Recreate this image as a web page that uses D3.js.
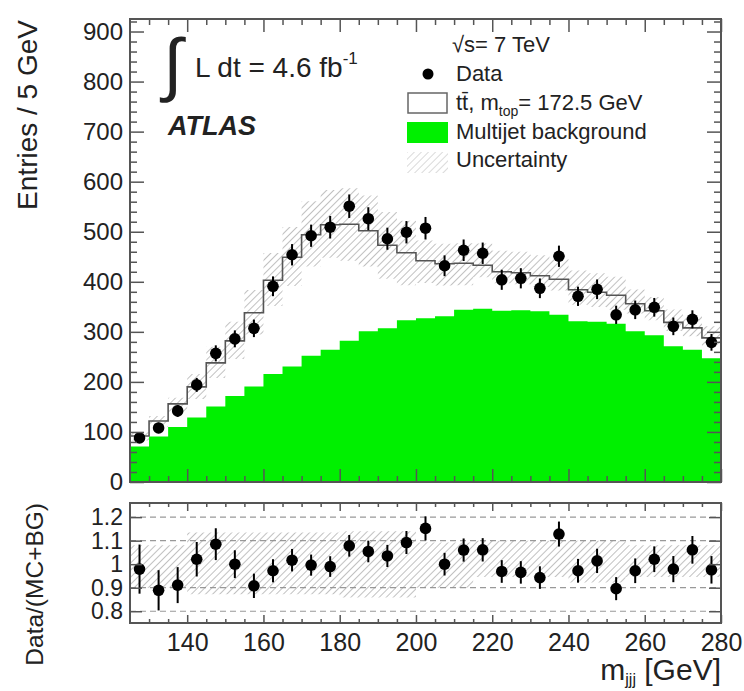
<!DOCTYPE html>
<html>
<head>
<meta charset="utf-8">
<script src="https://cdn.jsdelivr.net/npm/d3@7"></script>
<style>
body { margin: 0; background: #fff; }
text { font-family: 'Liberation Sans', Arial, Helvetica, sans-serif; fill: #222; }
</style>
</head>
<body>
<svg></svg>
<script>
const size = {w: 744, h: 691};
const mainBox = {l: 130, r: 721, t: 19, b: 482};
const ratioBox = {l: 130, r: 721, t: 503, b: 623};
const binWidth = 5;

const binCenters = [127.5, 132.5, 137.5, 142.5, 147.5, 152.5, 157.5, 162.5, 167.5, 172.5,
    177.5, 182.5, 187.5, 192.5, 197.5, 202.5, 207.5, 212.5, 217.5, 222.5,
    227.5, 232.5, 237.5, 242.5, 247.5, 252.5, 257.5, 262.5, 267.5, 272.5, 277.5];

const dataCounts = [88, 108, 142, 194, 257, 286, 307, 391, 454, 492,
    509, 551, 526, 486, 499, 507, 432, 463, 457, 404,
    407, 387, 451, 371, 385, 334, 344, 349, 311, 325, 279];

// ttbar + multijet
const prediction = [92, 122, 156, 190, 238, 282, 338, 403, 449, 494,
    514, 515, 502, 473, 458, 442, 436, 437, 433, 420,
    418, 412, 405, 384, 379, 373, 356, 342, 319, 308, 288];

const multijet = [71, 91, 110, 129, 151, 172, 191, 216, 231, 252,
    264, 282, 301, 307, 323, 327, 331, 344, 346, 342,
    343, 341, 334, 321, 320, 316, 301, 293, 271, 264, 247];

const ratioValues = [0.979, 0.889, 0.911, 1.021, 1.085, 1.0, 0.908, 0.972, 1.017, 0.996,
    0.99, 1.078, 1.054, 1.035, 1.092, 1.152, 1.0, 1.06, 1.061, 0.969,
    0.965, 0.943, 1.128, 0.972, 1.014, 0.896, 0.972, 1.021, 0.979, 1.061, 0.976];

// relative uncertainty band (low / high) per bin
const uncLow = [0.90, 0.90, 0.90, 0.872, 0.872, 0.872, 0.872, 0.872, 0.872, 0.872,
    0.872, 0.858, 0.858, 0.858, 0.858, 0.90, 0.90, 0.90, 0.945, 0.945,
    0.945, 0.945, 0.945, 0.922, 0.922, 0.922, 0.945, 0.945, 0.945, 0.945, 0.945];
const uncHigh = [1.08, 1.08, 1.08, 1.135, 1.135, 1.135, 1.135, 1.135, 1.135, 1.135,
    1.135, 1.14, 1.14, 1.14, 1.14, 1.092, 1.092, 1.092, 1.10, 1.10,
    1.10, 1.10, 1.10, 1.10, 1.10, 1.10, 1.08, 1.08, 1.08, 1.08, 1.08];

const mainTicks = [0, 100, 200, 300, 400, 500, 600, 700, 800, 900];
const ratioTicks = [0.8, 0.9, 1, 1.1, 1.2];
const ratioGrid = [0.8, 0.9, 1.1, 1.2];
const xTicks = [140, 160, 180, 200, 220, 240, 260, 280];

const svg = d3.select('svg')
    .attr('width', size.w)
    .attr('height', size.h);

const defs = svg.append('defs');
defs.append('pattern')
    .attr('id', 'hatch')
    .attr('width', 5)
    .attr('height', 5)
    .attr('patternUnits', 'userSpaceOnUse')
    .attr('patternTransform', 'rotate(45)')
    .append('line')
    .attr('x1', 0).attr('y1', 0).attr('x2', 0).attr('y2', 5)
    .attr('stroke', '#8c8c8c')
    .attr('stroke-width', 1.1);
defs.append('pattern')
    .attr('id', 'hatchLight')
    .attr('width', 5)
    .attr('height', 5)
    .attr('patternUnits', 'userSpaceOnUse')
    .attr('patternTransform', 'rotate(45)')
    .append('line')
    .attr('x1', 0).attr('y1', 0).attr('x2', 0).attr('y2', 5)
    .attr('stroke', '#bbb')
    .attr('stroke-width', 1.1);

const x = d3.scaleLinear().domain([125, 280]).range([mainBox.l, mainBox.r]);
const y = d3.scaleLinear().domain([0, 925]).range([mainBox.b, mainBox.t]);
const yr = d3.scaleLinear().domain([0.75, 1.26]).range([ratioBox.b, ratioBox.t]);

const bins = binCenters.map((c, i) => ({
    c: c,
    n: dataCounts[i],
    pred: prediction[i],
    bg: multijet[i],
    ratio: ratioValues[i],
    lo: uncLow[i],
    hi: uncHigh[i]
}));

// turn bins into step points (left and right edge)
function steps(f) {
    let pts = [];
    bins.forEach(d => {
        pts.push({x: d.c - binWidth / 2, v: f(d)});
        pts.push({x: d.c + binWidth / 2, v: f(d)});
    });
    return pts;
}

const mainG = svg.append('g').classed('main', true);

mainG.append('path')
    .datum(steps(d => d.bg))
    .attr('fill', '#00f000')
    .attr('d', d3.area().x(d => x(d.x)).y0(y(0)).y1(d => y(d.v)));

mainG.append('path')
    .datum(bins.flatMap(d => [
        {x: d.c - binWidth / 2, a: d.pred * d.lo, b: d.pred * d.hi},
        {x: d.c + binWidth / 2, a: d.pred * d.lo, b: d.pred * d.hi}
    ]))
    .attr('fill', 'url(#hatch)')
    .attr('d', d3.area().x(d => x(d.x)).y0(d => y(d.a)).y1(d => y(d.b)));

mainG.append('path')
    .datum(steps(d => d.pred))
    .attr('fill', 'none')
    .attr('stroke', '#555')
    .attr('stroke-width', 1.6)
    .attr('d', d3.line().x(d => x(d.x)).y(d => y(d.v)));

mainG.selectAll('.err')
    .data(bins)
    .join('line')
    .classed('err', true)
    .attr('x1', d => x(d.c))
    .attr('x2', d => x(d.c))
    .attr('y1', d => y(d.n - Math.sqrt(d.n)))
    .attr('y2', d => y(d.n + Math.sqrt(d.n)))
    .attr('stroke', '#000')
    .attr('stroke-width', 2);

mainG.selectAll('.pt')
    .data(bins)
    .join('circle')
    .classed('pt', true)
    .attr('cx', d => x(d.c))
    .attr('cy', d => y(d.n))
    .attr('r', 5.8)
    .attr('fill', '#000');

// ratio panel
const ratioG = svg.append('g').classed('ratio', true);

ratioG.selectAll('.grid')
    .data(ratioGrid)
    .join('line')
    .classed('grid', true)
    .attr('x1', ratioBox.l)
    .attr('x2', ratioBox.r)
    .attr('y1', d => yr(d))
    .attr('y2', d => yr(d))
    .attr('stroke', '#999')
    .attr('stroke-width', 1.2)
    .attr('stroke-dasharray', '6,4');

ratioG.append('path')
    .datum(bins.flatMap(d => [
        {x: d.c - binWidth / 2, a: d.lo, b: d.hi},
        {x: d.c + binWidth / 2, a: d.lo, b: d.hi}
    ]))
    .attr('fill', 'url(#hatch)')
    .attr('d', d3.area().x(d => x(d.x)).y0(d => yr(d.a)).y1(d => yr(d.b)));

ratioG.selectAll('.err')
    .data(bins)
    .join('line')
    .classed('err', true)
    .attr('x1', d => x(d.c))
    .attr('x2', d => x(d.c))
    .attr('y1', d => yr(d.ratio * (1 - 1 / Math.sqrt(d.n))))
    .attr('y2', d => yr(d.ratio * (1 + 1 / Math.sqrt(d.n))))
    .attr('stroke', '#000')
    .attr('stroke-width', 2);

ratioG.selectAll('.pt')
    .data(bins)
    .join('circle')
    .classed('pt', true)
    .attr('cx', d => x(d.c))
    .attr('cy', d => yr(d.ratio))
    .attr('r', 5.8)
    .attr('fill', '#000');

// axes, ticks inside like ROOT
function addAxis(g, axis, tx, ty, labels, fontSize) {
    let a = g.append('g')
        .attr('transform', `translate(${tx},${ty})`)
        .call(axis);
    a.select('.domain').remove();
    a.selectAll('line').attr('stroke', '#555').attr('stroke-width', 1.5);
    a.selectAll('text')
        .attr('font-size', fontSize)
        .attr('font-family', null)
        .attr('fill', '#222');
    if (!labels) a.selectAll('text').remove();
    return a;
}

const minorX = d3.range(130, 280, 5).filter(v => v % 20 !== 0);
const minorY = d3.range(20, 925, 20).filter(v => v % 100 !== 0);

// main panel
addAxis(svg, d3.axisLeft(y).tickValues(mainTicks).tickSize(-14).tickPadding(7), mainBox.l, 0, true, 24);
addAxis(svg, d3.axisLeft(y).tickValues(minorY).tickSize(-7), mainBox.l, 0, false);
addAxis(svg, d3.axisRight(y).tickValues(mainTicks).tickSize(-14), mainBox.r, 0, false);
addAxis(svg, d3.axisRight(y).tickValues(minorY).tickSize(-7), mainBox.r, 0, false);
addAxis(svg, d3.axisBottom(x).tickValues(xTicks).tickSize(-13), 0, mainBox.b, false);
addAxis(svg, d3.axisBottom(x).tickValues(minorX).tickSize(-6), 0, mainBox.b, false);
addAxis(svg, d3.axisTop(x).tickValues(xTicks).tickSize(-13), 0, mainBox.t, false);
addAxis(svg, d3.axisTop(x).tickValues(minorX).tickSize(-6), 0, mainBox.t, false);

// ratio panel
addAxis(svg, d3.axisLeft(yr).tickValues(ratioTicks).tickSize(-12).tickPadding(7).tickFormat(d => String(d)), ratioBox.l, 0, true, 23);
addAxis(svg, d3.axisRight(yr).tickValues(ratioTicks).tickSize(-12), ratioBox.r, 0, false);
addAxis(svg, d3.axisBottom(x).tickValues(xTicks).tickSize(-8).tickPadding(10), 0, ratioBox.b, true, 25);
addAxis(svg, d3.axisBottom(x).tickValues(minorX).tickSize(-4), 0, ratioBox.b, false);
addAxis(svg, d3.axisTop(x).tickValues(xTicks).tickSize(-8), 0, ratioBox.t, false);
addAxis(svg, d3.axisTop(x).tickValues(minorX).tickSize(-4), 0, ratioBox.t, false);

[mainBox, ratioBox].forEach(b => {
    svg.append('rect')
        .attr('x', b.l)
        .attr('y', b.t)
        .attr('width', b.r - b.l)
        .attr('height', b.b - b.t)
        .attr('fill', 'none')
        .attr('stroke', '#555')
        .attr('stroke-width', 2);
});

// titles
svg.append('text')
    .attr('transform', 'translate(37,20) rotate(-90)')
    .attr('text-anchor', 'end')
    .attr('font-size', 28)
    .text('Entries / 5 GeV');

svg.append('text')
    .attr('transform', `translate(43,${ratioBox.t}) rotate(-90)`)
    .attr('text-anchor', 'end')
    .attr('font-size', 24.5)
    .text('Data/(MC+BG)');

let xTitle = svg.append('text')
    .attr('x', 721)
    .attr('y', 680)
    .attr('text-anchor', 'end')
    .attr('font-size', 30);
xTitle.append('tspan').text('m');
xTitle.append('tspan').attr('font-size', 16).attr('dy', 5).text('jjj');
xTitle.append('tspan').attr('dy', -5).text(' [GeV]');

// labels top left
svg.append('text')
    .attr('x', 163)
    .attr('y', 88)
    .attr('font-size', 70)
    .attr('font-weight', 300)
    .text('∫');

let lumi = svg.append('text')
    .attr('x', 195)
    .attr('y', 77)
    .attr('font-size', 28);
lumi.append('tspan').text('L dt = 4.6 fb');
lumi.append('tspan').attr('font-size', 17).attr('dy', -13).text('-1');

svg.append('text')
    .attr('x', 168)
    .attr('y', 135)
    .attr('font-size', 27)
    .attr('font-weight', 'bold')
    .attr('font-style', 'italic')
    .text('ATLAS');

// legend
const legX = 456;
svg.append('text')
    .attr('x', 452)
    .attr('y', 52)
    .attr('font-size', 22)
    .text('√s= 7 TeV');

svg.append('circle')
    .attr('cx', 428)
    .attr('cy', 74)
    .attr('r', 5.5)
    .attr('fill', '#000');
svg.append('text')
    .attr('x', legX)
    .attr('y', 81)
    .attr('font-size', 22)
    .text('Data');

svg.append('rect')
    .attr('x', 408).attr('y', 93)
    .attr('width', 39).attr('height', 20)
    .attr('fill', '#fff')
    .attr('stroke', '#666')
    .attr('stroke-width', 1.5);
let ttLabel = svg.append('text')
    .attr('x', legX)
    .attr('y', 110)
    .attr('font-size', 22);
ttLabel.append('tspan').text('tt\u0304, m');
ttLabel.append('tspan').attr('font-size', 14).attr('dy', 6).text('top');
ttLabel.append('tspan').attr('dy', -6).text('= 172.5 GeV');

svg.append('rect')
    .attr('x', 407).attr('y', 122)
    .attr('width', 41).attr('height', 21)
    .attr('fill', '#00f000');
svg.append('text')
    .attr('x', legX)
    .attr('y', 139)
    .attr('font-size', 22)
    .text('Multijet background');

svg.append('rect')
    .attr('x', 407).attr('y', 152)
    .attr('width', 41).attr('height', 21)
    .attr('fill', 'url(#hatchLight)');
svg.append('text')
    .attr('x', legX)
    .attr('y', 167)
    .attr('font-size', 22)
    .text('Uncertainty');
</script>
</body>
</html>
